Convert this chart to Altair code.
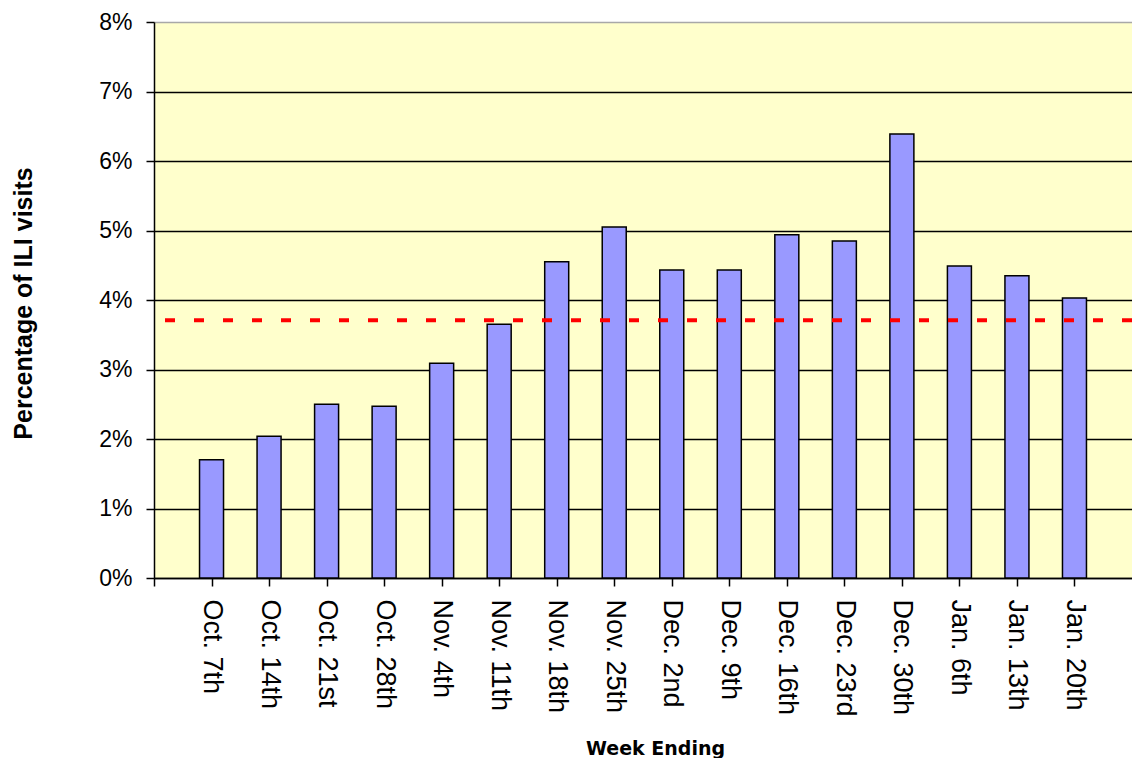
import altair as alt
import pandas as pd

weeks = ["Oct. 7th", "Oct. 14th", "Oct. 21st", "Oct. 28th", "Nov. 4th", "Nov. 11th",
         "Nov. 18th", "Nov. 25th", "Dec. 2nd", "Dec. 9th", "Dec. 16th", "Dec. 23rd",
         "Dec. 30th", "Jan. 6th", "Jan. 13th", "Jan. 20th"]
ili_pct = [1.70, 2.04, 2.50, 2.47, 3.09, 3.65, 4.55, 5.05, 4.43, 4.43, 4.94, 4.85,
           6.39, 4.49, 4.35, 4.03]
baseline = [3.71]
y_ticks = [0, 1, 2, 3, 4, 5, 6, 7, 8]

positions = list(range(1, len(weeks) + 1))
df = pd.DataFrame({"pos": positions, "week": weeks, "pct": ili_pct})
base_df = pd.DataFrame({"baseline": baseline})

# label lookup for the x axis built from the weeks list
label_map = "{" + ",".join(f"'{i}':'{w}'" for i, w in zip(positions, weeks)) + "}"
label_expr = f"({label_map})[''+datum.value] || ''"

W, H = 978, 556
x_scale = alt.Scale(domain=[0, 17.0], nice=False, zero=True, padding=0)
y_scale = alt.Scale(domain=[0, 8], nice=False)

x_axis = alt.Axis(
    values=[0] + positions, labelExpr=label_expr, labelAngle=90, labelAlign="left",
    labelBaseline="middle", labelFont="Liberation Sans", labelFontSize=27,
    labelColor="#000000", labelPadding=13, tickSize=8, tickColor="#000000",
    tickWidth=1.5, domainColor="#000000", domainWidth=1.5, grid=False,
    title="Week Ending", titleFont="DejaVu Sans", titleFontSize=19,
    titleFontWeight="bold", titleColor="#000000", titleX=501, titleY=176,
    titleBaseline="alphabetic", titleAlign="center", labelOverlap=False,
    labelFlush=False, labelBound=False,
)
y_axis = alt.Axis(
    values=y_ticks, labelExpr="datum.value + '%'", labelFont="Liberation Sans",
    labelFontSize=23, labelColor="#000000", labelPadding=14, tickSize=8,
    tickColor="#000000", tickWidth=1.5, domainColor="#000000", domainWidth=1.5,
    grid=True, gridWidth=1.5,
    gridColor={"condition": {"test": "datum.value == 8", "value": "#a8a8a8"},
               "value": "#000000"},
    title="Percentage of ILI visits", titleFont="Liberation Sans",
    titleFontSize=25, titleFontWeight="bold", titleColor="#000000",
    titleAngle=-90, titleX=-131, titleY=281, titleAlign="center",
    titleBaseline="middle", labelFlush=False, labelOverlap=False,
)

bars = alt.Chart(df).mark_bar(
    size=24, color="#9999FF", stroke="#000000", strokeWidth=1.5
).encode(
    x=alt.X("pos:Q", scale=x_scale, axis=x_axis),
    y=alt.Y("pct:Q", scale=y_scale, axis=y_axis),
)

rule = alt.Chart(base_df).mark_rule(
    color="#FF0000", strokeWidth=4, strokeDash=[10, 19]
).encode(
    y=alt.Y("baseline:Q", scale=y_scale),
)

chart = alt.layer(bars, rule).properties(
    width=W, height=H,
    autosize=alt.AutoSizeParams(type="none"),
    padding={"left": 146, "top": 14, "right": 0, "bottom": 180},
).configure(
    background="#FFFFFF",
    view=alt.ViewConfig(fill="#FFFFCC", stroke=None),
)

chart.save("out.html", embed_options={"renderer": "svg", "actions": False})
